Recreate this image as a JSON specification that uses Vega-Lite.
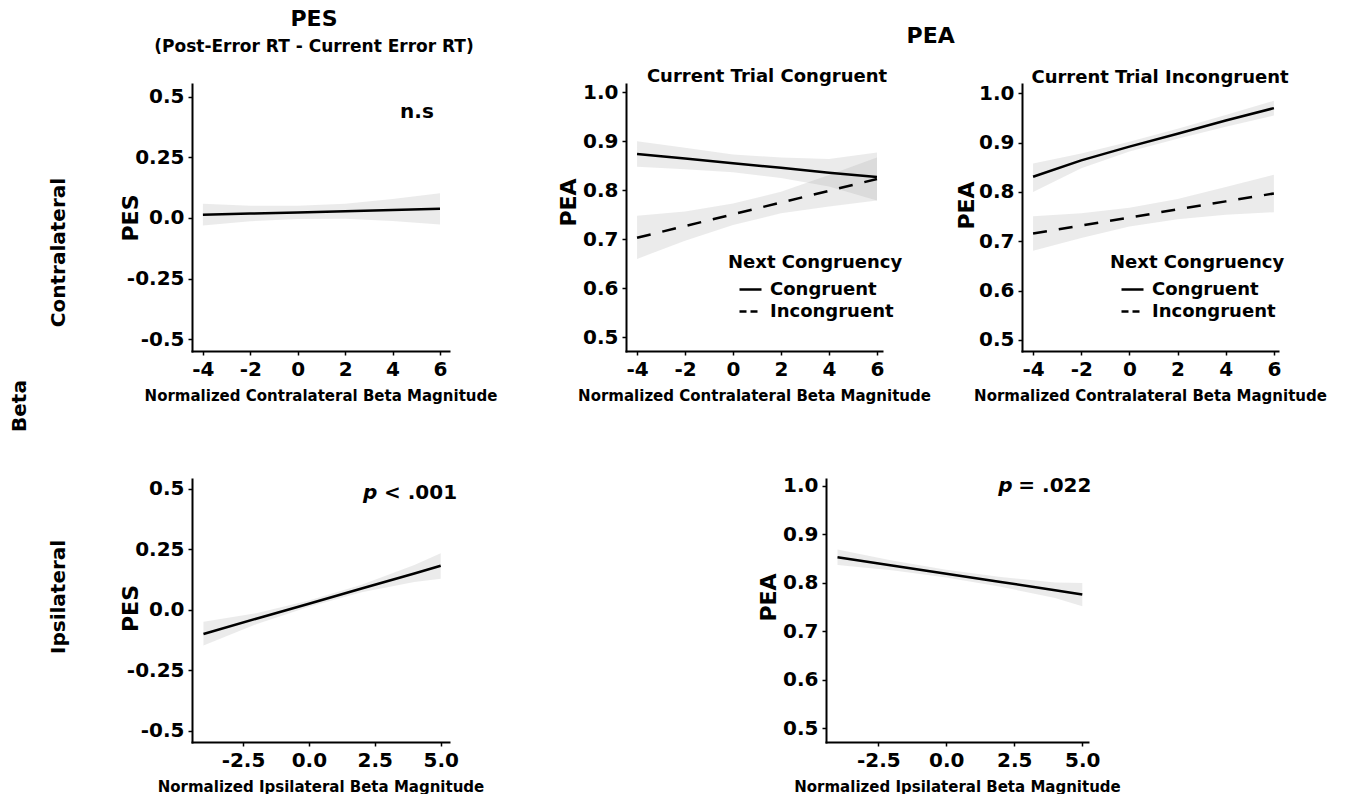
{
  "$schema": "https://vega.github.io/schema/vega-lite/v6.json",
  "padding": {"left": 10, "top": 8, "right": 0, "bottom": 0},
  "background": "white",
  "config": {
    "view": {"stroke": null},
    "font": "DejaVu Sans",
    "axis": {
      "grid": false,
      "domainColor": "black",
      "domainWidth": 2,
      "domainCap": "square",
      "tickColor": "black",
      "tickWidth": 1.5,
      "tickSize": 4,
      "labelFont": "DejaVu Sans",
      "labelFontSize": 20,
      "labelFontWeight": "bold",
      "labelColor": "black",
      "labelPadding": 4,
      "titleFont": "DejaVu Sans",
      "titleFontWeight": "bold",
      "titleColor": "black"
    },
    "axisX": {"titleFontSize": 15, "titlePadding": 9},
    "axisY": {"titleFontSize": 22, "titleBaseline": "alphabetic", "titleX": -55},
    "title": {"font": "DejaVu Sans", "fontWeight": "bold", "color": "black", "subtitleFont": "DejaVu Sans", "subtitleFontWeight": "bold", "subtitleColor": "black"},
    "legend": {
      "orient": "none",
      "titleFont": "DejaVu Sans", "titleFontSize": 18, "titleFontWeight": "bold", "titleColor": "black",
      "labelFont": "DejaVu Sans", "labelFontSize": 18, "labelFontWeight": "bold", "labelColor": "black",
      "symbolType": "stroke", "symbolStrokeColor": "black", "symbolStrokeWidth": 2.5, "symbolSize": 484,
      "symbolOffset": 10, "labelOffset": 7, "rowPadding": 0, "titlePadding": 5, "padding": 0
    }
  },
  "datasets": {
    "pesContra": [
      {"x": -4, "fit": 0.013, "lo": -0.031, "hi": 0.059},
      {"x": -2, "fit": 0.018, "lo": -0.013, "hi": 0.050},
      {"x": 0, "fit": 0.023, "lo": -0.004, "hi": 0.050},
      {"x": 2, "fit": 0.028, "lo": -0.003, "hi": 0.059},
      {"x": 4, "fit": 0.033, "lo": -0.012, "hi": 0.078},
      {"x": 6, "fit": 0.038, "lo": -0.027, "hi": 0.102}
    ],
    "peaCongContra": [
      {"series": "Congruent", "x": -4, "fit": 0.874, "lo": 0.848, "hi": 0.900},
      {"series": "Congruent", "x": -2, "fit": 0.865, "lo": 0.843, "hi": 0.887},
      {"series": "Congruent", "x": 0, "fit": 0.855, "lo": 0.837, "hi": 0.873},
      {"series": "Congruent", "x": 2, "fit": 0.846, "lo": 0.825, "hi": 0.867},
      {"series": "Congruent", "x": 4, "fit": 0.836, "lo": 0.808, "hi": 0.864},
      {"series": "Congruent", "x": 6, "fit": 0.827, "lo": 0.779, "hi": 0.877},
      {"series": "Incongruent", "x": -4, "fit": 0.703, "lo": 0.660, "hi": 0.748},
      {"series": "Incongruent", "x": -2, "fit": 0.727, "lo": 0.697, "hi": 0.757},
      {"series": "Incongruent", "x": 0, "fit": 0.751, "lo": 0.729, "hi": 0.773},
      {"series": "Incongruent", "x": 2, "fit": 0.775, "lo": 0.753, "hi": 0.797},
      {"series": "Incongruent", "x": 4, "fit": 0.799, "lo": 0.767, "hi": 0.831},
      {"series": "Incongruent", "x": 6, "fit": 0.823, "lo": 0.779, "hi": 0.867}
    ],
    "peaIncongContra": [
      {"series": "Congruent", "x": -4, "fit": 0.831, "lo": 0.800, "hi": 0.858},
      {"series": "Congruent", "x": -2, "fit": 0.864, "lo": 0.848, "hi": 0.878},
      {"series": "Congruent", "x": 0, "fit": 0.892, "lo": 0.882, "hi": 0.902},
      {"series": "Congruent", "x": 2, "fit": 0.918, "lo": 0.908, "hi": 0.928},
      {"series": "Congruent", "x": 4, "fit": 0.945, "lo": 0.932, "hi": 0.956},
      {"series": "Congruent", "x": 6, "fit": 0.970, "lo": 0.955, "hi": 0.985},
      {"series": "Incongruent", "x": -4, "fit": 0.716, "lo": 0.681, "hi": 0.751},
      {"series": "Incongruent", "x": -2, "fit": 0.732, "lo": 0.707, "hi": 0.757},
      {"series": "Incongruent", "x": 0, "fit": 0.748, "lo": 0.730, "hi": 0.768},
      {"series": "Incongruent", "x": 2, "fit": 0.765, "lo": 0.745, "hi": 0.786},
      {"series": "Incongruent", "x": 4, "fit": 0.781, "lo": 0.754, "hi": 0.810},
      {"series": "Incongruent", "x": 6, "fit": 0.797, "lo": 0.759, "hi": 0.835}
    ],
    "pesIpsi": [
      {"x": -4, "fit": -0.100, "lo": -0.148, "hi": -0.050},
      {"x": -2, "fit": -0.037, "lo": -0.060, "hi": -0.014},
      {"x": 0, "fit": 0.025, "lo": 0.012, "hi": 0.038},
      {"x": 2, "fit": 0.088, "lo": 0.072, "hi": 0.104},
      {"x": 4, "fit": 0.150, "lo": 0.115, "hi": 0.185},
      {"x": 5, "fit": 0.182, "lo": 0.128, "hi": 0.234}
    ],
    "peaIpsi": [
      {"x": -4, "fit": 0.853, "lo": 0.837, "hi": 0.869},
      {"x": -2, "fit": 0.836, "lo": 0.826, "hi": 0.846},
      {"x": 0, "fit": 0.819, "lo": 0.811, "hi": 0.827},
      {"x": 2, "fit": 0.802, "lo": 0.792, "hi": 0.812},
      {"x": 4, "fit": 0.785, "lo": 0.769, "hi": 0.801},
      {"x": 5, "fit": 0.776, "lo": 0.752, "hi": 0.800}
    ]
  },
  "title": {"text": "Beta", "orient": "left", "anchor": "middle", "frame": "bounds", "offset": 19, "fontSize": 20, "dx": -5},
  "bounds": "full",
  "spacing": 72,
  "resolve": {"scale": {"strokeDash": "independent"}, "legend": {"strokeDash": "independent"}},
  "vconcat": [
    {
      "bounds": "flush",
      "spacing": 177,
      "title": {"text": "Contralateral", "orient": "left", "anchor": "middle", "frame": "bounds", "offset": 50, "fontSize": 20, "dx": -47},
      "resolve": {"scale": {"strokeDash": "independent"}, "legend": {"strokeDash": "independent"}},
      "hconcat": [
        {
          "width": 257, "height": 267,
          "title": {"text": "PES", "subtitle": "(Post-Error RT - Current Error RT)", "fontSize": 22, "subtitleFontSize": 17, "anchor": "middle", "frame": "group", "offset": 28, "subtitlePadding": 8, "dx": -6.5},
          "data": {"name": "pesContra"},
          "layer": [
            {
              "mark": {"type": "area", "color": "#999999", "opacity": 0.2},
              "encoding": {
                "x": {"field": "x", "type": "quantitative", "scale": {"domain": [-4.46, 6.38], "nice": false, "zero": false},
                  "axis": {"values": [-4, -2, 0, 2, 4, 6], "labelExpr": "(datum.value < 0 ? '-' : '') + toString(abs(datum.value))", "title": "Normalized Contralateral Beta Magnitude"}},
                "y": {"field": "lo", "type": "quantitative", "scale": {"domain": [-0.548, 0.552], "nice": false, "zero": false},
                  "axis": {"values": [-0.5, -0.25, 0, 0.25, 0.5], "labelExpr": "(datum.value < 0 ? '-' : '') + (datum.value == 0 ? '0.0' : toString(abs(datum.value)))", "title": "PES"}},
                "y2": {"field": "hi"}
              }
            },
            {
              "mark": {"type": "line", "color": "black", "strokeWidth": 2.5},
              "encoding": {
                "x": {"field": "x", "type": "quantitative"},
                "y": {"field": "fit", "type": "quantitative"}
              }
            },
            {
              "data": {"values": [{"x": 5.03, "y": 0.412, "label": "n.s"}]},
              "mark": {"type": "text", "fontSize": 20, "fontWeight": "bold", "align": "center", "baseline": "alphabetic", "color": "black"},
              "encoding": {
                "x": {"field": "x", "type": "quantitative"},
                "y": {"field": "y", "type": "quantitative"},
                "text": {"field": "label"}
              }
            }
          ]
        },
        {
          "bounds": "flush",
          "spacing": 140,
          "title": {"text": "PEA", "fontSize": 22, "anchor": "middle", "frame": "bounds", "offset": 20, "dx": -11},
          "resolve": {"scale": {"strokeDash": "independent"}, "legend": {"strokeDash": "independent"}},
          "hconcat": [
            {
              "width": 256, "height": 267,
              "title": {"text": "Current Trial Congruent", "fontSize": 18, "anchor": "middle", "frame": "group", "baseline": "alphabetic", "offset": -18, "dx": 13},
              "data": {"name": "peaCongContra"},
              "layer": [
                {
                  "mark": {"type": "area", "color": "#999999", "opacity": 0.2},
                  "encoding": {
                    "x": {"field": "x", "type": "quantitative", "scale": {"domain": [-4.46, 6.21], "nice": false, "zero": false},
                      "axis": {"values": [-4, -2, 0, 2, 4, 6], "labelExpr": "(datum.value < 0 ? '-' : '') + toString(abs(datum.value))", "title": "Normalized Contralateral Beta Magnitude"}},
                    "y": {"field": "lo", "type": "quantitative", "scale": {"domain": [0.472, 1.017], "nice": false, "zero": false},
                      "axis": {"values": [0.5, 0.6, 0.7, 0.8, 0.9, 1.0], "format": ".1f", "title": "PEA", "titleX": -51, "titleY": 118}},
                    "y2": {"field": "hi"},
                    "detail": {"field": "series"}
                  }
                },
                {
                  "transform": [{"filter": "datum.series === 'Congruent'"}],
                  "mark": {"type": "line", "color": "black", "strokeWidth": 2.5},
                  "encoding": {
                    "x": {"field": "x", "type": "quantitative"},
                    "y": {"field": "fit", "type": "quantitative"}
                  }
                },
                {
                  "transform": [{"filter": "datum.series === 'Incongruent'"}],
                  "mark": {"type": "line", "color": "black", "strokeWidth": 2.5, "strokeDash": [14, 12]},
                  "encoding": {
                    "x": {"field": "x", "type": "quantitative"},
                    "y": {"field": "fit", "type": "quantitative"}
                  }
                },
                {
                  "transform": [{"filter": "false"}],
                  "mark": {"type": "line", "color": "black", "strokeWidth": 2.5},
                  "encoding": {
                    "x": {"field": "x", "type": "quantitative"},
                    "y": {"field": "fit", "type": "quantitative"},
                    "strokeDash": {"field": "series", "type": "nominal",
                      "scale": {"domain": ["Congruent", "Incongruent"], "range": [[1, 0], [7, 4]]},
                      "legend": {"title": "Next Congruency", "legendX": 102, "legendY": 170}}
                  }
                }
              ]
            },
            {
              "width": 256, "height": 267,
              "title": {"text": "Current Trial Incongruent", "fontSize": 18, "anchor": "middle", "frame": "group", "baseline": "alphabetic", "offset": -18, "dx": 10},
              "data": {"name": "peaIncongContra"},
              "layer": [
                {
                  "mark": {"type": "area", "color": "#999999", "opacity": 0.2},
                  "encoding": {
                    "x": {"field": "x", "type": "quantitative", "scale": {"domain": [-4.46, 6.17], "nice": false, "zero": false},
                      "axis": {"values": [-4, -2, 0, 2, 4, 6], "labelExpr": "(datum.value < 0 ? '-' : '') + toString(abs(datum.value))", "title": "Normalized Contralateral Beta Magnitude"}},
                    "y": {"field": "lo", "type": "quantitative", "scale": {"domain": [0.4777, 1.0189], "nice": false, "zero": false},
                      "axis": {"values": [0.5, 0.6, 0.7, 0.8, 0.9, 1.0], "format": ".1f", "title": "PEA", "titleX": -49, "titleY": 121}},
                    "y2": {"field": "hi"},
                    "detail": {"field": "series"}
                  }
                },
                {
                  "transform": [{"filter": "datum.series === 'Congruent'"}],
                  "mark": {"type": "line", "color": "black", "strokeWidth": 2.5},
                  "encoding": {
                    "x": {"field": "x", "type": "quantitative"},
                    "y": {"field": "fit", "type": "quantitative"}
                  }
                },
                {
                  "transform": [{"filter": "datum.series === 'Incongruent'"}],
                  "mark": {"type": "line", "color": "black", "strokeWidth": 2.5, "strokeDash": [14, 12]},
                  "encoding": {
                    "x": {"field": "x", "type": "quantitative"},
                    "y": {"field": "fit", "type": "quantitative"}
                  }
                },
                {
                  "transform": [{"filter": "false"}],
                  "mark": {"type": "line", "color": "black", "strokeWidth": 2.5},
                  "encoding": {
                    "x": {"field": "x", "type": "quantitative"},
                    "y": {"field": "fit", "type": "quantitative"},
                    "strokeDash": {"field": "series", "type": "nominal",
                      "scale": {"domain": ["Congruent", "Incongruent"], "range": [[1, 0], [7, 4]]},
                      "legend": {"title": "Next Congruency", "legendX": 88, "legendY": 170}}
                  }
                }
              ]
            }
          ]
        }
      ]
    },
    {
      "bounds": "flush",
      "spacing": 377,
      "title": {"text": "Ipsilateral", "orient": "left", "anchor": "middle", "frame": "bounds", "offset": 50, "fontSize": 20, "dx": 38},
      "hconcat": [
        {
          "width": 257, "height": 263,
          "data": {"name": "pesIpsi"},
          "layer": [
            {
              "mark": {"type": "area", "color": "#999999", "opacity": 0.2},
              "encoding": {
                "x": {"field": "x", "type": "quantitative", "scale": {"domain": [-4.435, 5.315], "nice": false, "zero": false},
                  "axis": {"values": [-2.5, 0, 2.5, 5], "labelExpr": "(datum.value < 0 ? '-' : '') + format(abs(datum.value), '.1f')", "title": "Normalized Ipsilateral Beta Magnitude"}},
                "y": {"field": "lo", "type": "quantitative", "scale": {"domain": [-0.547, 0.541], "nice": false, "zero": false},
                  "axis": {"values": [-0.5, -0.25, 0, 0.25, 0.5], "labelExpr": "(datum.value < 0 ? '-' : '') + (datum.value == 0 ? '0.0' : toString(abs(datum.value)))", "title": "PES", "titleY": 129}},
                "y2": {"field": "hi"}
              }
            },
            {
              "mark": {"type": "line", "color": "black", "strokeWidth": 2.5},
              "encoding": {
                "x": {"field": "x", "type": "quantitative"},
                "y": {"field": "fit", "type": "quantitative"}
              }
            },
            {
              "data": {"values": [{"x": 2.05, "y": 0.46, "label": "p"}]},
              "mark": {"type": "text", "fontSize": 20, "fontWeight": "bold", "fontStyle": "italic", "align": "left", "baseline": "alphabetic", "color": "black"},
              "encoding": {
                "x": {"field": "x", "type": "quantitative"},
                "y": {"field": "y", "type": "quantitative"},
                "text": {"field": "label"}
              }
            },
            {
              "data": {"values": [{"x": 2.85, "y": 0.46, "label": "< .001"}]},
              "mark": {"type": "text", "fontSize": 20, "fontWeight": "bold", "align": "left", "baseline": "alphabetic", "color": "black"},
              "encoding": {
                "x": {"field": "x", "type": "quantitative"},
                "y": {"field": "y", "type": "quantitative"},
                "text": {"field": "label"}
              }
            }
          ]
        },
        {
          "width": 262, "height": 263,
          "data": {"name": "peaIpsi"},
          "layer": [
            {
              "mark": {"type": "area", "color": "#999999", "opacity": 0.2},
              "encoding": {
                "x": {"field": "x", "type": "quantitative", "scale": {"domain": [-4.423, 5.21], "nice": false, "zero": false},
                  "axis": {"values": [-2.5, 0, 2.5, 5], "labelExpr": "(datum.value < 0 ? '-' : '') + format(abs(datum.value), '.1f')", "title": "Normalized Ipsilateral Beta Magnitude"}},
                "y": {"field": "lo", "type": "quantitative", "scale": {"domain": [0.4717, 1.0144], "nice": false, "zero": false},
                  "axis": {"values": [0.5, 0.6, 0.7, 0.8, 0.9, 1.0], "format": ".1f", "title": "PEA", "titleX": -51, "titleY": 118}},
                "y2": {"field": "hi"}
              }
            },
            {
              "mark": {"type": "line", "color": "black", "strokeWidth": 2.5},
              "encoding": {
                "x": {"field": "x", "type": "quantitative"},
                "y": {"field": "fit", "type": "quantitative"}
              }
            },
            {
              "data": {"values": [{"x": 1.91, "y": 0.988, "label": "p"}]},
              "mark": {"type": "text", "fontSize": 20, "fontWeight": "bold", "fontStyle": "italic", "align": "left", "baseline": "alphabetic", "color": "black"},
              "encoding": {
                "x": {"field": "x", "type": "quantitative"},
                "y": {"field": "y", "type": "quantitative"},
                "text": {"field": "label"}
              }
            },
            {
              "data": {"values": [{"x": 2.65, "y": 0.988, "label": "= .022"}]},
              "mark": {"type": "text", "fontSize": 20, "fontWeight": "bold", "align": "left", "baseline": "alphabetic", "color": "black"},
              "encoding": {
                "x": {"field": "x", "type": "quantitative"},
                "y": {"field": "y", "type": "quantitative"},
                "text": {"field": "label"}
              }
            }
          ]
        }
      ]
    }
  ]
}
